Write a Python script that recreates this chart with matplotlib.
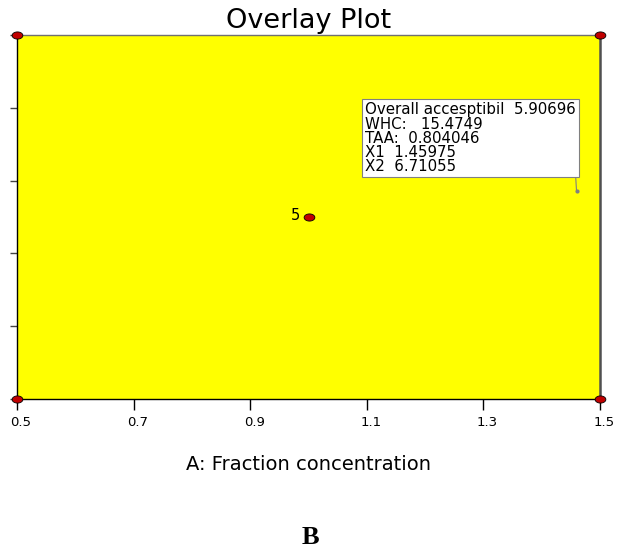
import matplotlib
matplotlib.use("Agg")
import matplotlib.pyplot as plt
from matplotlib.transforms import ScaledTranslation
import numpy as np

# Data
design_x = [0.5, 1.5, 0.5, 1.5, 1.0]
design_y = [1.0, 1.0, 11.0, 11.0, 6.0]
center_label = "5"
x_ticks = [0.5, 0.7, 0.9, 1.1, 1.3, 1.5]
x_tick_labels = ["0.5", "0.7", "0.9", "1.1", "1.3", "1.5"]
y_ticks = [1, 3, 5, 7, 9, 11]
flag_x = 1.45975
flag_y = 6.71055
flag_lines = ["Overall accesptibil  5.90696", "WHC:   15.4749", "TAA:  0.804046",
              "X1  1.45975", "X2  6.71055"]

plt.rcParams['font.family'] = ['DejaVu Sans']

fig = plt.figure(figsize=(6.23, 5.56), dpi=100)
ax = fig.add_axes([17/623, 157/556, 583/623, 364/556])
ax.set_facecolor('#ffff00')
ax.set_xlim(0.5, 1.5)
ax.set_ylim(1, 11)

for side in ['left', 'bottom']:
    ax.spines[side].set_color('black')
    ax.spines[side].set_linewidth(1.0)
ax.spines['top'].set_color('#707070')
ax.spines['top'].set_linewidth(1.0)
ax.spines['right'].set_color('#505050')
ax.spines['right'].set_linewidth(1.8)

ax.set_xticks(x_ticks)
ax.set_xticklabels(x_tick_labels, fontsize=9.5)
ax.set_yticks(y_ticks)
ax.set_yticklabels([])
ax.tick_params(axis='x', direction='out', length=8, width=1, color='black', pad=4)
ax.tick_params(axis='y', direction='out', length=5, width=1, color='#444444')
shift = ScaledTranslation(4/100, 0, fig.dpi_scale_trans)
for lab in ax.get_xticklabels():
    lab.set_transform(lab.get_transform() + shift)

# ellipse marker
t = np.linspace(0, 2*np.pi, 40)
ell = np.column_stack([1.5*np.cos(t), np.sin(t)])
ax.scatter(design_x, design_y, marker=ell, s=60, facecolor='#c00000',
           edgecolor='black', linewidth=0.6, zorder=5, clip_on=False)
ax.annotate(center_label, (design_x[4], design_y[4]), xytext=(-8, 1),
            textcoords='offset pixels', ha='right', va='center', fontsize=10.5)

# flag
ax.plot([flag_x], [flag_y], marker='o', ms=2, color='#808080', zorder=6)
ax.annotate("\n".join(flag_lines), (flag_x, flag_y), xytext=(-1, 17),
            textcoords='offset pixels', ha='right', va='bottom', fontsize=10.8,
            multialignment='left', linespacing=0.93,
            bbox=dict(boxstyle='square,pad=0.2', fc='white', ec='#808080', lw=0.8),
            arrowprops=dict(arrowstyle='-', color='#808080', lw=0.8,
                            relpos=(1, 0), shrinkA=0, shrinkB=0))

ax.set_title("Overlay Plot", fontsize=19.5, pad=5)
ax.set_xlabel("A: Fraction concentration", fontsize=14, labelpad=19)
fig.text(310/623, 1 - 537/556, "B", fontsize=19, fontweight='bold',
         family=['Liberation Serif', 'DejaVu Serif'], ha='center', va='center')

fig.savefig("out.png", dpi=100, facecolor='white')
